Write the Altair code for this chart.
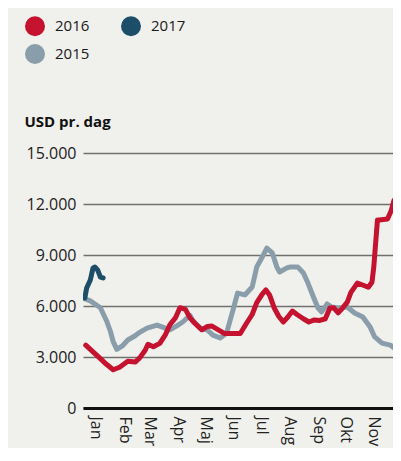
import altair as alt
import pandas as pd

# Day of year / USD per day
days_2015 = [0, 8, 19, 26, 30, 33, 37, 43, 49, 57, 62, 70, 81, 87, 95, 103, 109, 117, 120, 128,
             136, 142, 150, 157, 164, 169, 177, 185, 190, 196, 201, 207, 212, 215, 223, 226, 235,
             241, 246, 252, 257, 261, 267, 272, 279, 289, 297, 306, 314, 319, 327, 336, 343, 352, 360]
vals_2015 = [6470, 6300, 5900, 5100, 4500, 3900, 3450, 3650, 4000, 4250, 4450, 4700, 4880, 4760,
             4600, 4850, 5060, 5450, 5150, 4700, 4590, 4290, 4120, 4400, 5760, 6760, 6650, 7120,
             8290, 8880, 9410, 9120, 8290, 8000, 8240, 8290, 8290, 7940, 7350, 6530, 5880, 5650,
             6120, 5940, 5880, 5940, 5590, 5350, 4760, 4180, 3820, 3700, 3410, 3150, 3000]

days_2016 = [3, 11, 19, 25, 33, 40, 49, 57, 62, 68, 71, 77, 84, 90, 95, 101, 106, 112, 117, 122,
             130, 136, 141, 148, 155, 163, 172, 179, 185, 190, 196, 200, 204, 209, 214, 219, 224,
             229, 234, 241, 247, 253, 259, 265, 270, 274, 279, 283, 289, 293, 300, 305, 312, 316,
             318, 322, 324, 333, 337, 340, 343, 348, 352]
vals_2016 = [3700, 3300, 2900, 2600, 2250, 2400, 2750, 2700, 2950, 3400, 3750, 3600, 3800, 4300,
             4900, 5300, 5900, 5800, 5300, 5000, 4600, 4800, 4820, 4600, 4380, 4380, 4380, 5000,
             5500, 6200, 6700, 6950, 6650, 5900, 5400, 5060, 5350, 5700, 5500, 5250, 5060, 5180,
             5150, 5250, 5880, 5900, 5600, 5820, 6230, 6800, 7350, 7250, 7100, 7400, 8300, 11060,
             11060, 11120, 11600, 12200, 12410, 12000, 11800]

days_2017 = [2, 4, 8, 11, 13, 16, 19, 22]
vals_2017 = [6470, 7060, 7530, 8240, 8290, 8120, 7700, 7650]

years = ["2016", "2017", "2015"]
colors = ["#c4122f", "#1c4e69", "#8a9dab"]

month_labels = ["Jan", "Feb", "Mar", "Apr", "Maj", "Jun", "Jul", "Aug", "Sep", "Okt", "Nov", "Dec"]
month_mid_days = [14, 45, 73, 104, 134, 165, 195, 226, 257, 287, 318, 348]
y_ticks = [0, 3000, 6000, 9000, 12000, 15000]

rows = []
for yr, ds, vs in (("2015", days_2015, vals_2015),
                   ("2016", days_2016, vals_2016),
                   ("2017", days_2017, vals_2017)):
    rows += [{"year": yr, "day": d, "value": v} for d, v in zip(ds, vs)]
df = pd.DataFrame(rows)

lab_arr = "[" + ",".join(f"'{m}'" for m in month_labels) + "]"
day_arr = "[" + ",".join(str(d) for d in month_mid_days) + "]"
x_label_expr = f"{lab_arr}[indexof({day_arr}, datum.value)]"

FONT = "Open Sans"

# concentric rings so that a stroked symbol looks like a filled disc
disc_path = ("M -1 0 A 1 1 0 1 0 1 0 A 1 1 0 1 0 -1 0 "
             "M -0.34 0 A 0.34 0.34 0 1 0 0.34 0 A 0.34 0.34 0 1 0 -0.34 0 "
             "M -0.05 0 L 0.05 0")

chart = alt.Chart(df).mark_line(
    strokeWidth=5, strokeCap="round", strokeJoin="round", clip=True
).encode(
    x=alt.X("day:Q",
            scale=alt.Scale(domain=[0, 339], nice=False, zero=False),
            axis=alt.Axis(values=month_mid_days[:-1], labelExpr=x_label_expr,
                          labelAngle=90, labelAlign="left", labelBaseline="middle",
                          labelPadding=8, ticks=False, grid=False,
                          domainColor="#111111", domainWidth=3,
                          labelFont=FONT, labelFontSize=16, labelColor="#222222",
                          title=None)),
    y=alt.Y("value:Q",
            scale=alt.Scale(domain=[0, 15000], nice=False),
            axis=alt.Axis(values=y_ticks,
                          labelExpr="replace(format(datum.value, ','), ',', '.')",
                          grid=True, gridColor="#707070", gridWidth=1.5,
                          domain=False, ticks=False, labelPadding=7,
                          labelFont=FONT, labelFontSize=16, labelColor="#222222",
                          title="USD pr. dag", titleAngle=0, titleX=-59, titleY=-27,
                          titleAlign="left", titleBaseline="alphabetic",
                          titleFont=FONT, titleFontSize=15, titleFontWeight="bold",
                          titleColor="#111111")),
    color=alt.Color("year:N",
                    scale=alt.Scale(domain=years, range=colors),
                    legend=alt.Legend(title=None, orient="none", legendX=-58, legendY=-137,
                                      direction="horizontal",
                                      columns=2, symbolType=disc_path, symbolSize=225,
                                      symbolStrokeWidth=5, symbolOpacity=1,
                                      labelFont=FONT, labelFontSize=15,
                                      labelColor="#1a1a1a", labelOffset=10,
                                      columnPadding=23, rowPadding=-24, padding=0)),
).properties(
    width=310, height=255,
    padding={"left": 75, "top": 145, "right": 0, "bottom": 40},
    autosize=alt.AutoSizeParams(type="none"),
    background="#f0f0ec",
).configure_view(stroke=None)

chart.save("out.html", embed_options={"renderer": "svg", "actions": False})
